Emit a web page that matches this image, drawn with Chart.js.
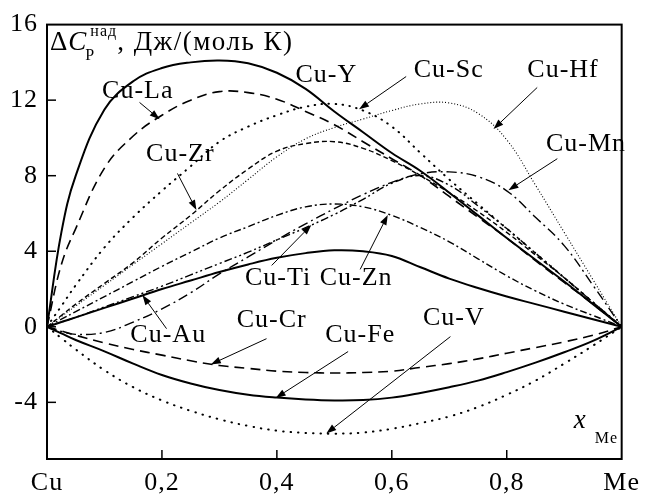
<!DOCTYPE html>
<html><head><meta charset="utf-8">
<script src="https://cdn.jsdelivr.net/npm/chart.js@4.4.1/dist/chart.umd.min.js"></script>
<style>html,body{margin:0;padding:0;background:#fff}canvas{display:block}</style>
</head><body>
<canvas id="c" width="648" height="501"></canvas>
<script>
// ---- data ----
const xs   = [0, .025, .05, .1, .15, .2, .25, .3, .35, .4, .45, .5, .55, .6, .65, .7, .75, .8, .85, .9, .95, 1];
const cuY  = [0, 5.0, 8.0, 11.5, 13.0, 13.7, 14.0, 14.1, 13.95, 13.45, 12.6, 11.4, 10.3, 9.2, 8.25, 7.1, 5.9, 4.7, 3.55, 2.4, 1.2, 0];
const cuLa = [0, 3.3, 5.2, 8.4, 10.1, 11.2, 12.0, 12.45, 12.4, 12.05, 11.4, 10.7, 9.8, 8.9, 8.0, 6.9, 5.8, 4.7, 3.5, 2.35, 1.2, 0];
const cuSc = [0, 1.1, 2.2, 4.2, 5.8, 7.2, 8.5, 9.8, 10.6, 11.2, 11.65, 11.8, 11.45, 10.6, 9.2, 7.8, 6.5, 5.2, 3.9, 2.6, 1.3, 0];
const cuHf = [0, 0.55, 1.1, 2.2, 3.3, 4.4, 5.5, 6.6, 7.8, 9.0, 9.95, 10.55, 11.0, 11.45, 11.8, 11.85, 11.3, 9.9, 7.5, 5.0, 2.5, 0];
const cuZr = [0, 0.6, 1.2, 2.3, 3.4, 4.7, 5.9, 7.2, 8.35, 9.3, 9.7, 9.8, 9.45, 8.8, 8.0, 7.1, 6.1, 5.0, 3.8, 2.6, 1.3, 0];
const cuMn = [0, -0.25, -0.4, -0.3, 0.25, 0.95, 1.8, 2.8, 3.7, 4.6, 5.45, 6.25, 7.0, 7.65, 8.1, 8.2, 7.95, 7.2, 5.8, 4.3, 2.2, 0];
const cuTi = [0, 0.25, 0.5, 1.05, 1.6, 2.15, 2.75, 3.35, 3.95, 4.6, 5.25, 5.95, 6.75, 7.6, 8.0, 7.5, 6.4, 5.2, 3.9, 2.6, 1.3, 0];
const cuZn = [0, 0.4, 0.8, 1.6, 2.4, 3.2, 3.95, 4.7, 5.3, 5.9, 6.35, 6.5, 6.35, 5.9, 5.25, 4.5, 3.6, 2.7, 1.9, 1.2, 0.6, 0];
const cuAu = [0, 0.25, 0.5, 1.0, 1.5, 2.0, 2.45, 2.9, 3.3, 3.65, 3.9, 4.05, 4.0, 3.75, 3.15, 2.55, 2.05, 1.6, 1.2, 0.8, 0.4, 0];
const cuCr = [0, -0.22, -0.45, -0.85, -1.2, -1.5, -1.8, -2.05, -2.2, -2.35, -2.42, -2.45, -2.42, -2.35, -2.15, -1.95, -1.7, -1.4, -1.1, -0.8, -0.45, 0];
const cuFe = [0, -0.35, -0.7, -1.3, -1.95, -2.55, -3.0, -3.35, -3.6, -3.75, -3.85, -3.9, -3.88, -3.75, -3.5, -3.2, -2.85, -2.4, -1.9, -1.35, -0.75, 0];
const cuV  = [0, -0.6, -1.2, -2.3, -3.2, -3.9, -4.45, -4.9, -5.25, -5.5, -5.62, -5.66, -5.6, -5.4, -5.1, -4.75, -4.25, -3.6, -2.85, -1.95, -1.0, 0];

const xTickValues = [0, 0.2, 0.4, 0.6, 0.8, 1];
const xTickLabels = ['Cu', '0,2', '0,4', '0,6', '0,8', 'Me'];
const yTickValues = [-4, 0, 4, 8, 12, 16];
const yTickLabels = ['-4', '0', '4', '8', '12', '16'];

// ---- styles ----
const SERIF = '"Liberation Serif", "Times New Roman", serif';
const seriesStyle = [
  ['Cu-Y',  cuY,  [],              2.0, 'butt'],
  ['Cu-La', cuLa, [10, 6],         1.6, 'butt'],
  ['Cu-Sc', cuSc, [0.5, 6.5],      2.0, 'round'],
  ['Cu-Hf', cuHf, [1, 2],          1.1, 'butt'],
  ['Cu-Zr', cuZr, [5, 3],          1.4, 'butt'],
  ['Cu-Mn', cuMn, [10, 4, 2, 4],   1.4, 'butt'],
  ['Cu-Ti', cuTi, [8, 3, 2, 3, 2, 3], 1.4, 'butt'],
  ['Cu-Zn', cuZn, [7, 3, 2, 3],    1.4, 'butt'],
  ['Cu-Au', cuAu, [],              2.0, 'butt'],
  ['Cu-Cr', cuCr, [10, 6],         1.6, 'butt'],
  ['Cu-Fe', cuFe, [],              2.0, 'butt'],
  ['Cu-V',  cuV,  [0.5, 7],        2.0, 'round']
];

// label text positions (data coords, alphabetic baseline, centred)
const labelPos = {
  'Cu-La': [0.158, 12.09], 'Cu-Zr': [0.232, 8.80], 'Cu-Y': [0.486, 12.98],
  'Cu-Sc': [0.699, 13.25], 'Cu-Hf': [0.898, 13.25], 'Cu-Mn': [0.938, 9.32],
  'Cu-Ti': [0.402, 2.20],  'Cu-Zn': [0.538, 2.20],  'Cu-Au': [0.211, -0.79],
  'Cu-Cr': [0.391, 0.0],   'Cu-Fe': [0.545, -0.79], 'Cu-V': [0.708, 0.10]
};
// arrows: from -> to (data coords)
const arrowPos = [
  [0.161, 11.88, 0.196, 10.99], [0.227, 8.12, 0.260, 6.18],
  [0.625, 13.25, 0.543, 11.52], [0.853, 12.67, 0.777, 10.47],
  [0.888, 8.90, 0.803, 7.23],   [0.391, 3.25, 0.460, 5.39],
  [0.545, 3.04, 0.593, 5.92],   [0.208, -0.10, 0.166, 1.68],
  [0.382, -0.63, 0.285, -1.99], [0.524, -1.31, 0.398, -3.77],
  [0.702, -0.52, 0.486, -5.65]
];

const datasets = seriesStyle.map(([name, vals, dash, w, cap]) => ({
  label: name,
  data: xs.map((x, i) => ({x, y: vals[i]})),
  borderColor: '#000', borderWidth: w, borderDash: dash, borderCapStyle: cap,
  pointRadius: 0, fill: false, tension: 0.4
}));

function arrow(ctx, x1, y1, x2, y2) {
  const ang = Math.atan2(y2 - y1, x2 - x1), L = 10, W = 3.5;
  const bx = x2 - L * Math.cos(ang), by = y2 - L * Math.sin(ang);
  ctx.beginPath(); ctx.moveTo(x1, y1); ctx.lineTo(bx, by); ctx.stroke();
  ctx.beginPath();
  ctx.moveTo(x2, y2);
  ctx.lineTo(bx + W * Math.sin(ang), by - W * Math.cos(ang));
  ctx.lineTo(bx - W * Math.sin(ang), by + W * Math.cos(ang));
  ctx.closePath(); ctx.fill();
}

const spacing = {
  id: 'spacing',
  beforeDraw(chart) { if ('letterSpacing' in chart.ctx) chart.ctx.letterSpacing = '1px'; }
};

const deco = {
  id: 'deco',
  afterDatasetsDraw(chart) {
    const {ctx, chartArea: a, scales: {x, y}} = chart;
    ctx.save();
    ctx.strokeStyle = '#000'; ctx.fillStyle = '#000';
    ctx.setLineDash([]);
    ctx.lineWidth = 2;
    ctx.strokeRect(a.left, a.top, a.right - a.left, a.bottom - a.top);
    ctx.lineWidth = 1.5;
    xTickValues.forEach(v => {
      if (v <= 0 || v >= 1) return;
      const px = x.getPixelForValue(v);
      ctx.beginPath(); ctx.moveTo(px, a.bottom); ctx.lineTo(px, a.bottom - 9); ctx.stroke();
    });
    yTickValues.forEach(v => {
      if (v >= 16) return;
      const py = y.getPixelForValue(v);
      ctx.beginPath(); ctx.moveTo(a.left, py); ctx.lineTo(a.left + 9, py); ctx.stroke();
    });
    // arrows
    ctx.lineWidth = 1;
    arrowPos.forEach(([x1, y1, x2, y2]) =>
      arrow(ctx, x.getPixelForValue(x1), y.getPixelForValue(y1), x.getPixelForValue(x2), y.getPixelForValue(y2)));
    // series labels
    if ('letterSpacing' in ctx) ctx.letterSpacing = '1px';
    ctx.font = '26px ' + SERIF;
    ctx.textAlign = 'center'; ctx.textBaseline = 'alphabetic';
    Object.entries(labelPos).forEach(([t, [lx, ly]]) =>
      ctx.fillText(t, x.getPixelForValue(lx), y.getPixelForValue(ly)));
    // axis title (y)
    ctx.textAlign = 'left';
    let tx = a.left + 3, ty = a.top + 25;
    ctx.font = '27px ' + SERIF; ctx.fillText('\u0394', tx, ty); tx += ctx.measureText('\u0394').width;
    ctx.font = 'italic 27px ' + SERIF; ctx.fillText('C', tx, ty); tx += ctx.measureText('C').width;
    ctx.font = '16px ' + SERIF; ctx.fillText('P', tx - 2, ty + 10);
    ctx.fillText('\u043D\u0430\u0434', tx + 3, ty - 14);
    tx += 3 + ctx.measureText('\u043D\u0430\u0434').width;
    if ('letterSpacing' in ctx) ctx.letterSpacing = '1.5px';
    ctx.font = '27px ' + SERIF; ctx.fillText(', \u0414\u0436/(\u043C\u043E\u043B\u044C \u041A)', tx, ty);
    if ('letterSpacing' in ctx) ctx.letterSpacing = '1px';
    // x axis title
    ctx.font = 'italic 27px ' + SERIF; ctx.fillText('x', a.right - 48, a.bottom - 31);
    ctx.font = '16px ' + SERIF; ctx.fillText('Me', a.right - 27, a.bottom - 16);
    ctx.restore();
  }
};

new Chart(document.getElementById('c'), {
  type: 'line',
  data: {datasets},
  options: {
    responsive: false, devicePixelRatio: 1, animation: false,
    layout: {padding: {top: 20, right: 23, left: 0, bottom: 0}},
    plugins: {legend: {display: false}, tooltip: {enabled: false}},
    scales: {
      x: {
        type: 'linear', min: 0, max: 1,
        afterBuildTicks: s => { s.ticks = xTickValues.map(v => ({value: v})); },
        afterFit: s => { s.height = 42; },
        ticks: {color: '#000', font: {family: SERIF, size: 26}, padding: 9, maxRotation: 0, autoSkip: false,
          callback: (v) => xTickLabels[xTickValues.indexOf(v)] ?? ''},
        grid: {display: false, drawTicks: false},
        border: {display: true, color: '#000', width: 2}
      },
      y: {
        type: 'linear', min: -7, max: 16,
        afterBuildTicks: s => { s.ticks = yTickValues.map(v => ({value: v})); },
        afterFit: s => { s.width = 47; },
        ticks: {color: '#000', font: {family: SERIF, size: 26}, padding: 9, autoSkip: false,
          callback: (v) => yTickLabels[yTickValues.indexOf(v)] ?? ''},
        grid: {display: false, drawTicks: false},
        border: {display: true, color: '#000', width: 2}
      }
    }
  },
  plugins: [spacing, deco]
});
</script>
</body></html>
